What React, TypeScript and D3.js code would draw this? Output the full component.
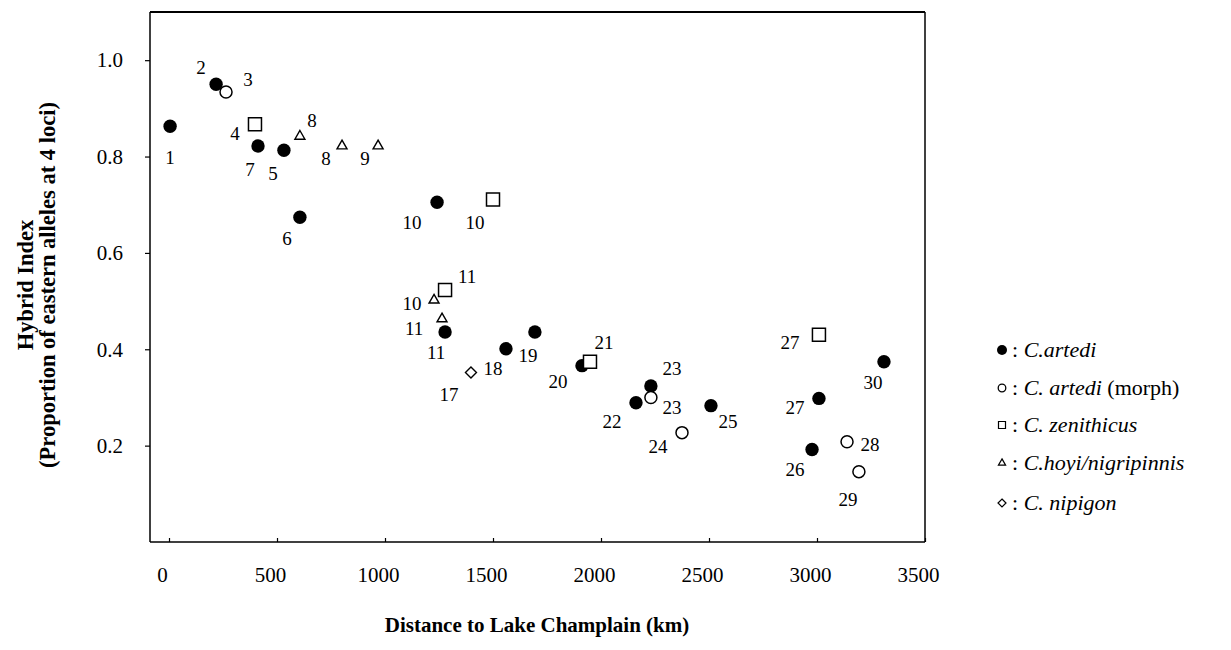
import React, { useEffect, useRef } from 'react';
import * as d3 from 'd3';

// distance to Lake Champlain (km), hybrid index, site label
const artedi = [
  [5, 0.863, '1'], [218, 0.95, '2'], [412, 0.822, '7'], [532, 0.813, '5'],
  [606, 0.674, '6'], [1241, 0.705, '10'], [1278, 0.436, '11'], [1560, 0.401, '18'],
  [1694, 0.436, '19'], [1912, 0.366, '20'], [2162, 0.289, '22'], [2231, 0.324, '23'],
  [2509, 0.283, '25'], [2977, 0.192, '26'], [3009, 0.298, '27'], [3310, 0.374, '30'],
];
const artediMorph = [
  [264, 0.934, '3'], [2231, 0.3, '23'], [2375, 0.227, '24'], [3139, 0.208, '28'], [3194, 0.146, '29'],
];
const zenithicus = [
  [398, 0.867, '4'], [1500, 0.711, '10'], [1278, 0.523, '11'], [1949, 0.374, '21'], [3009, 0.43, '27'],
];
const hoyi = [
  [606, 0.842, '8'], [801, 0.822, '8'], [968, 0.822, '9'], [1227, 0.502, '10'], [1264, 0.463, '11'],
];
const nipigon = [[1398, 0.352, '17']];

// where each site number sits next to its marker (same order as above)
const artediNudge = [
  [0, 31], [-15, -17], [-8, 24], [-11, 23], [-13, 21], [-25, 20], [-9, 21], [-13, 20],
  [-7, 24], [-24, 16], [-24, 19], [21, -17], [17, 16], [-17, 20], [-24, 9], [-11, 21],
];
const morphNudge = [[22, -12], [21, 10], [-24, 14], [23, 3], [-11, 28]];
const zenNudge = [[-20, 9], [-18, 23], [22, -13], [14, -19], [-29, 8]];
const hoyiNudge = [[12, -16], [-16, 13], [-13, 13], [-22, 3], [-28, 10]];
const nipigonNudge = [[-22, 22]];

const xTicks = [0, 500, 1000, 1500, 2000, 2500, 3000, 3500];
const yTicks = [0.2, 0.4, 0.6, 0.8, 1.0];

const FONT = '"Liberation Serif", "Times New Roman", serif';

const App = () => {
  const svgRef = useRef(null);

  useEffect(() => {
    const svg = d3.select(svgRef.current);
    svg.selectAll('*').remove();

    const left = 150, right = 925, top = 12, bottom = 542;
    const x = d3.scaleLinear().domain([-88, 3500]).range([left, right]);
    const y = d3.scaleLinear().domain([0, 1.1]).range([bottom, top]);

    // frame
    svg.append('line').attr('x1', left).attr('x2', right).attr('y1', top).attr('y2', top)
      .attr('stroke', '#000').attr('stroke-width', 2);
    svg.append('line').attr('x1', right).attr('x2', right).attr('y1', top).attr('y2', bottom)
      .attr('stroke', '#000').attr('stroke-width', 1.5);

    // axes
    const gx = svg.append('g').attr('transform', `translate(0,${bottom})`)
      .call(d3.axisBottom(x).tickValues(xTicks).tickSizeInner(-4).tickSizeOuter(0).tickPadding(25).tickFormat(d3.format('d')));
    gx.select('.domain').attr('stroke-width', 1.5).attr('d', `M${left},0H${right}`);
    gx.selectAll('.tick line').attr('stroke-width', 1.2);
    gx.selectAll('text').attr('font-family', FONT).attr('font-size', 21).attr('dx', -7).attr('fill', '#000');

    const gy = svg.append('g').attr('transform', `translate(${left},0)`)
      .call(d3.axisLeft(y).tickValues(yTicks).tickSizeInner(5).tickSizeOuter(0).tickPadding(22).tickFormat(d3.format('.1f')));
    gy.select('.domain').attr('stroke-width', 1.5).attr('d', `M0,${top}V${bottom}`);
    gy.selectAll('.tick line').attr('stroke-width', 1.2);
    gy.selectAll('text').attr('font-family', FONT).attr('font-size', 21).attr('fill', '#000');

    // axis titles
    svg.append('text').attr('x', 537).attr('y', 632).attr('text-anchor', 'middle')
      .attr('font-family', FONT).attr('font-weight', 'bold').attr('font-size', 21)
      .text('Distance to Lake Champlain (km)');
    const yt = svg.append('text').attr('transform', 'translate(0,285) rotate(-90)')
      .attr('text-anchor', 'middle').attr('font-family', FONT).attr('font-weight', 'bold').attr('font-size', 22.5);
    yt.append('tspan').attr('x', 0).attr('y', 33).text('Hybrid Index');
    yt.append('tspan').attr('x', 0).attr('y', 55).text('(Proportion of eastern alleles at 4 loci)');

    const tri = (s) => `M0,${-s * 0.58}L${s / 2},${s * 0.29}L${-s / 2},${s * 0.29}Z`;
    const dia = (s) => `M0,${-s / 2}L${s / 2},0L0,${s / 2}L${-s / 2},0Z`;
    const sq = (s) => `M${-s / 2},${-s / 2}h${s}v${s}h${-s}Z`;

    const marks = svg.append('g');
    const drawSeries = (data, nudge, draw) => {
      data.forEach((d, i) => {
        const cx = x(d[0]), cy = y(d[1]);
        draw(marks, cx, cy);
        marks.append('text').attr('x', cx + nudge[i][0]).attr('y', cy + nudge[i][1])
          .attr('dy', '0.34em').attr('text-anchor', 'middle')
          .attr('font-family', FONT).attr('font-size', 19).text(d[2]);
      });
    };

    drawSeries(artedi, artediNudge, (g, cx, cy) =>
      g.append('circle').attr('cx', cx).attr('cy', cy).attr('r', 6.7).attr('fill', '#000'));
    drawSeries(artediMorph, morphNudge, (g, cx, cy) =>
      g.append('circle').attr('cx', cx).attr('cy', cy).attr('r', 6).attr('fill', '#fff')
        .attr('stroke', '#000').attr('stroke-width', 1.5));
    drawSeries(zenithicus, zenNudge, (g, cx, cy) =>
      g.append('path').attr('transform', `translate(${cx},${cy})`).attr('d', sq(13))
        .attr('fill', '#fff').attr('stroke', '#000').attr('stroke-width', 1.5));
    drawSeries(hoyi, hoyiNudge, (g, cx, cy) =>
      g.append('path').attr('transform', `translate(${cx},${cy})`).attr('d', tri(10))
        .attr('fill', '#fff').attr('stroke', '#000').attr('stroke-width', 1.4));
    drawSeries(nipigon, nipigonNudge, (g, cx, cy) =>
      g.append('path').attr('transform', `translate(${cx},${cy})`).attr('d', dia(11))
        .attr('fill', '#fff').attr('stroke', '#000').attr('stroke-width', 1.4));

    // legend
    const legend = [
      { name: 'C.artedi', extra: '', draw: (g) => g.append('circle').attr('r', 5).attr('fill', '#000') },
      { name: 'C. artedi', extra: ' (morph)', draw: (g) => g.append('circle').attr('r', 3.8).attr('fill', '#fff').attr('stroke', '#000').attr('stroke-width', 1.3) },
      { name: 'C. zenithicus', extra: '', draw: (g) => g.append('path').attr('d', sq(7)).attr('fill', '#fff').attr('stroke', '#000').attr('stroke-width', 1.2) },
      { name: 'C.hoyi/nigripinnis', extra: '', draw: (g) => g.append('path').attr('d', tri(7)).attr('fill', '#fff').attr('stroke', '#000').attr('stroke-width', 1.3) },
      { name: 'C. nipigon', extra: '', draw: (g) => g.append('path').attr('d', dia(8)).attr('fill', '#fff').attr('stroke', '#000').attr('stroke-width', 1.2) },
    ];
    const legendY = [350, 388, 425, 463, 503];
    legend.forEach((l, i) => {
      const g = svg.append('g').attr('transform', `translate(1002,${legendY[i]})`);
      l.draw(g);
      const t = g.append('text').attr('x', 10).attr('dy', '0.34em')
        .attr('font-family', FONT).attr('font-size', 22);
      t.append('tspan').text(': ');
      t.append('tspan').attr('font-style', 'italic').text(l.name);
      if (l.extra) t.append('tspan').text(l.extra);
    });
  }, []);

  return (
    <svg ref={svgRef} width={1231} height={650}
      style={{ position: 'absolute', left: 0, top: 0, background: '#fff' }} />
  );
};

export default App;
